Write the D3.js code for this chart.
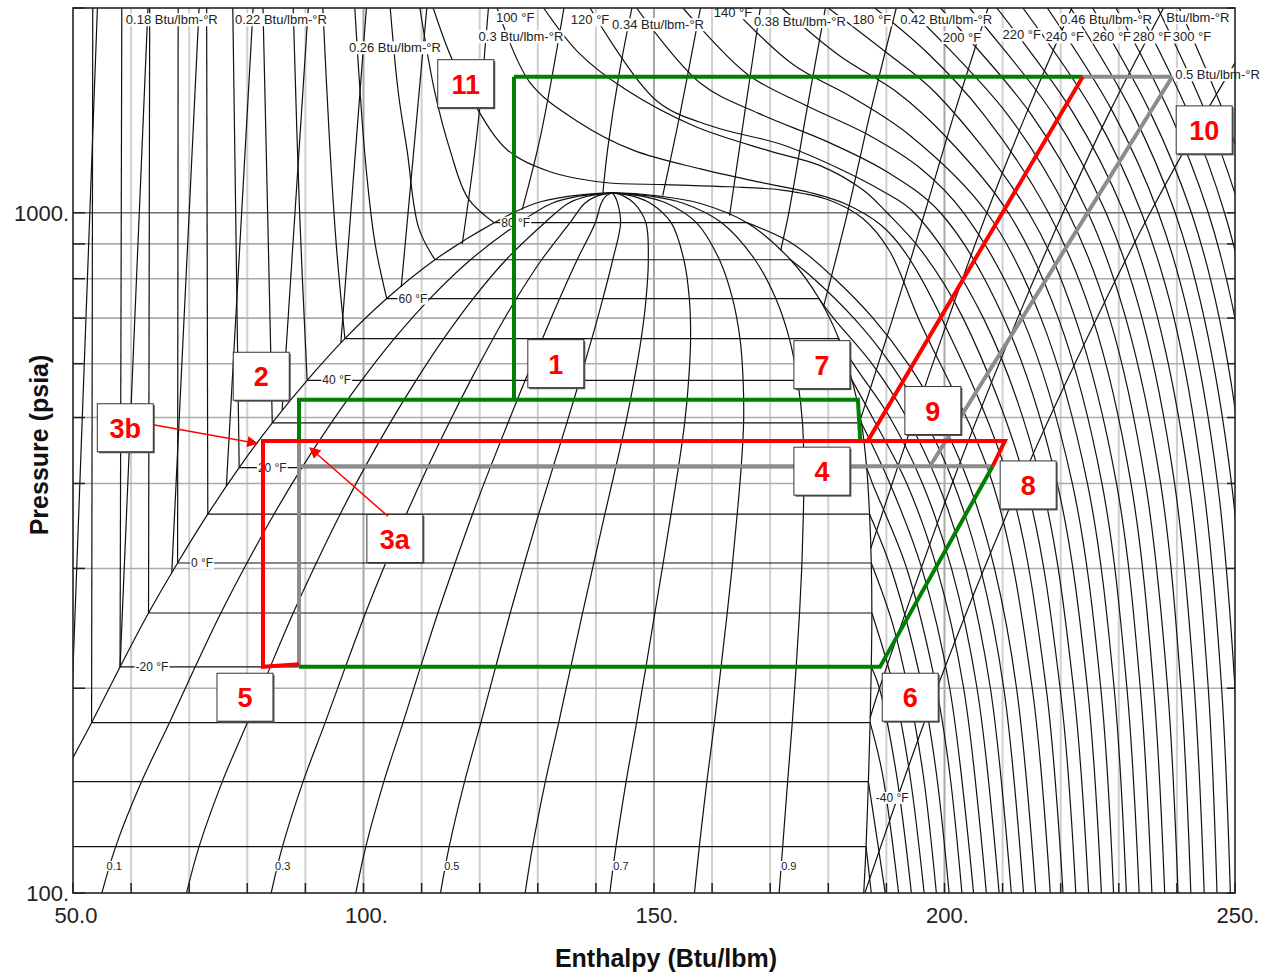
<!DOCTYPE html>
<html>
<head>
<meta charset="utf-8">
<title>CO2 pressure-enthalpy chart</title>
<script src="https://cdn.jsdelivr.net/npm/d3@7"></script>
<style>
  body { margin: 0; background: #fff; }
  svg { font-family: "Liberation Sans", Arial, Helvetica, sans-serif; }
</style>
</head>
<body>
<svg width="1278" height="980"></svg>
<script>
// ---------- data (enthalpy Btu/lbm, pressure psia) ----------
const xTickValues = [50, 100, 150, 200, 250];
const xTickLabels = ["50.0", "100.", "150.", "200.", "250."];
const yTickValues = [100, 1000];
const yTickLabels = ["100.", "1000."];

// saturation dome
const satT  = [-56.3, -50, -40, -30, -20, -10, 0, 10, 20, 30, 40, 50, 60, 70, 80, 85, 87, 87.8];
const satP  = [100, 117, 145.8, 178, 215, 258, 305.6, 360.5, 422, 491, 567, 653, 748, 853, 967, 1032, 1058, 1070];
const satHf = [40.4, 43.0, 47.9, 53.2, 58.1, 63.0, 68.0, 73.2, 78.6, 84.3, 90.3, 96.8, 104.0, 112.3, 122.5, 129.5, 135.5, 142.8];
const satHg = [186.1, 186.5, 186.9, 187.2, 187.4, 187.5, 187.4, 187.1, 186.6, 185.7, 184.1, 181.8, 178.4, 173.5, 166.0, 158.0, 151.0, 142.8];

const qualities = [0.1, 0.2, 0.3, 0.4, 0.5, 0.6, 0.7, 0.8, 0.9];
const qualityLabels = ["0.1", "0.3", "0.5", "0.7", "0.9"];
const qualityLabelH = [57.1, 86.1, 115.2, 144.3, 173.2];
const qualityLabelP = 109.6;

// compressed liquid isotherms, -30 .. 80 F
const liquidIsotherms = [
  [[53.2, 178], [53.4, 2000]],
  [[58.1, 215], [58.4, 2000]],
  [[63.0, 258], [63.2, 2000]],
  [[68.0, 305.6], [68.1, 2000]],
  [[73.2, 360.5], [73.0, 2000]],
  [[78.6, 422], [78.0, 1000], [77.5, 2000]],
  [[84.3, 491], [83.5, 1000], [82.7, 2000]],
  [[90.3, 567], [89.0, 1000], [87.9, 2000]],
  [[96.8, 653], [95.3, 900], [94.1, 1300], [93.0, 2000]],
  [[104.0, 748], [102.0, 900], [100.3, 1200], [98.5, 2000]],
  [[112.3, 853], [109.5, 950], [107.5, 1236], [106.0, 1500], [104.6, 2000]],
  [[122.5, 967], [118.0, 1050], [114.9, 1236], [112.3, 1500], [109.7, 2000]]
];

// superheated vapour isotherms, -50 .. 80 F
const vaporIsotherms = [
  [[186.5, 117], [187.4, 100]],
  [[186.9, 145.8], [188.4, 120], [189.8, 100]],
  [[187.2, 178], [189.3, 150], [192.1, 100]],
  [[187.4, 215], [188.8, 200], [191.7, 150], [194.3, 100]],
  [[187.5, 258], [191.3, 200], [194.0, 150], [196.5, 100]],
  [[187.4, 305.6], [191.0, 250], [193.7, 200], [196.3, 150], [198.6, 100]],
  [[187.1, 360.5], [190.8, 300], [196.2, 200], [198.6, 150], [200.8, 100]],
  [[186.6, 422], [187.6, 400], [193.5, 300], [198.6, 200], [200.9, 150], [203.0, 100]],
  [[185.7, 491], [190.6, 400], [196.1, 300], [200.9, 200], [205.0, 100]],
  [[184.1, 567], [187.6, 500], [193.5, 400], [198.7, 300], [203.3, 200], [207.2, 100]],
  [[181.8, 653], [184.3, 600], [190.6, 500], [196.2, 400], [201.2, 300], [205.6, 200], [209.4, 100]],
  [[178.4, 748], [180.9, 700], [187.5, 600], [193.5, 500], [198.9, 400], [203.7, 300], [207.9, 200], [211.5, 100]],
  [[173.5, 853], [177.5, 800], [184.4, 700], [190.7, 600], [196.4, 500], [201.6, 400], [206.2, 300], [210.2, 200], [213.6, 100]],
  [[166.0, 967], [173.9, 900], [181.1, 800], [187.7, 700], [193.7, 600], [199.2, 500], [204.2, 400], [208.6, 300], [212.4, 200], [215.7, 100]]
];

// supercritical isotherms, 90 .. 300 F
const superIsotherms = [
  [[112, 2000], [115, 1700], [119, 1450], [124.8, 1236], [132, 1150], [141.5, 1108], [152, 1100], [163, 1092], [172, 1080], [180, 1045], [186, 980], [190.5, 880], [195.5, 700], [208.3, 400], [215.1, 200], [218.2, 100]],
  [[123, 2000], [128.7, 1552], [137, 1360], [146.4, 1236], [158, 1160], [168, 1110], [177, 1070], [183, 1030], [189, 960], [193, 880], [199.5, 700], [211.2, 400], [217.5, 200], [220.4, 100]],
  [[131, 2000], [137, 1720], [145, 1520], [157, 1340], [169.4, 1236], [178.6, 1173], [186, 1080], [190.1, 1000], [196, 880], [203.2, 700], [214, 400], [219.9, 200], [222.6, 100]],
  [[139, 2000], [150.5, 1460], [160, 1340], [172, 1260], [182, 1160], [189, 1080], [194.8, 1000], [206.7, 700], [216.7, 400], [222.2, 200], [224.8, 100]],
  [[147, 2000], [158, 1550], [168, 1400], [180, 1270], [190, 1150], [199.3, 1000], [210.2, 700], [219.4, 400], [224.6, 200], [227, 100]],
  [[155, 2000], [166, 1600], [176, 1440], [187, 1300], [196, 1160], [203.3, 1000], [213.4, 700], [222, 400], [226.9, 200], [229.1, 100]],
  [[163.5, 2000], [174, 1650], [184, 1480], [194, 1300], [207.3, 1000], [216.6, 700], [224.6, 400], [229.2, 200], [231.3, 100]],
  [[172, 2000], [182, 1700], [192, 1500], [200, 1300], [211, 1000], [219.6, 700], [227.1, 400], [231.4, 200], [233.5, 100]],
  [[180, 2000], [190, 1720], [198.5, 1500], [214.5, 1000], [222.5, 700], [229.6, 400], [233.7, 200], [235.7, 100]],
  [[188, 2000], [197, 1720], [206.6, 1400], [217.9, 1000], [225.5, 700], [232.1, 400], [236, 200], [237.9, 100]],
  [[193.8, 2000], [210.7, 1400], [221.3, 1000], [228.4, 700], [234.6, 400], [238.4, 200], [240.2, 100]],
  [[199.3, 2000], [214.8, 1400], [224.7, 1000], [231.2, 700], [237.2, 400], [240.7, 200], [242.4, 100]],
  [[204.3, 2000], [218.6, 1400], [227.8, 1000], [234.0, 700], [239.6, 400], [243.0, 200], [244.7, 100]],
  [[209.0, 2000], [222.2, 1400], [230.9, 1000], [236.7, 700], [242.1, 400], [245.4, 200], [246.9, 100]],
  [[213.5, 2000], [225.8, 1400], [233.9, 1000], [239.5, 700], [244.5, 400], [247.7, 200], [249.2, 100]],
  [[217.7, 2000], [229.1, 1400], [236.8, 1000], [242.1, 700], [247.0, 400], [250.0, 200], [251.4, 100]],
  [[221.7, 2000], [232.4, 1400], [239.7, 1000], [244.7, 700], [249.4, 400], [252.3, 200], [253.7, 100]],
  [[225.5, 2000], [235.5, 1400], [242.5, 1000], [247.3, 700], [251.7, 400], [254.5, 200], [255.9, 100]],
  [[229.5, 2000], [238.8, 1400], [245.4, 1000], [250.0, 700], [254.2, 400], [256.9, 200], [258.2, 100]],
  [[233.2, 2000], [242.0, 1400], [248.2, 1000], [252.6, 700], [256.7, 400], [259.3, 200], [260.6, 100]],
  [[236.7, 2000], [245.0, 1400], [251.0, 1000], [255.2, 700], [259.2, 400], [261.7, 200], [262.9, 100]],
  [[240.4, 2000], [248.1, 1400], [253.8, 1000], [257.8, 700], [261.7, 400], [264.1, 200], [265.2, 100]]
];

// isentropes 0.16 .. 0.50 Btu/lbm-R
const isentropes = [
  [[49.4, 155], [54.2, 2000]],
  [[58.1, 215], [62.9, 2000]],
  [[67.0, 296], [71.7, 2000]],
  [[76.4, 397], [81.0, 2000]],
  [[86.0, 513], [90.5, 2000]],
  [[96.1, 644], [100.5, 2000]],
  [[106.5, 778], [110.9, 2000]],
  [[117.0, 900], [119.5, 1300], [121.5, 2000]],
  [[127.3, 1010], [130.5, 1300], [134.5, 2000]],
  [[141.2, 1069], [142.0, 1236], [144.0, 1600], [146.2, 2000]],
  [[151.5, 1060], [154.5, 1400], [158.0, 2000]],
  [[163.0, 990], [165.6, 1400], [168.3, 2000]],
  [[171.8, 880], [173.2, 1000], [176.2, 1400], [179.5, 2000]],
  [[179.2, 729], [183.3, 1000], [187.2, 1400], [191.7, 2000]],
  [[185.6, 499], [191.1, 700], [196.6, 1000], [201.7, 1400], [207.5, 2000]],
  [[187.3, 321], [191.0, 400], [200.7, 700], [207.3, 1000], [214.1, 1400], [221.9, 2000]],
  [[187.2, 181], [188.8, 200], [201.3, 400], [212.6, 700], [220.4, 1000], [228.3, 1400], [237.7, 2000]],
  [[186.3, 100], [198.7, 200], [213.0, 400], [226.2, 700], [235.4, 1000], [244.9, 1400], [255.7, 2000]]
];

// line labels
const domeLabelText = ["80 °F", "60 °F", "40 °F", "20 °F", "0 °F", "-20 °F", "-40 °F"];
const domeLabelH = [126.2, 108.5, 95.4, 84.3, 72.2, 63.6, 191.0];
const domeLabelP = [967, 748, 567, 422, 305.6, 215, 138];

const topTempText = ["100 °F", "120 °F", "140 °F", "180 °F", "200 °F", "220 °F", "240 °F", "260 °F", "280 °F", "300 °F"];
const topTempH = [126.1, 139.0, 163.6, 187.5, 203.0, 213.3, 220.7, 228.8, 235.7, 242.6];
const topTempP = [1936, 1922, 1968, 1922, 1809, 1827, 1813, 1813, 1813, 1813];

const entropyText = ["0.18 Btu/lbm-°R", "0.22 Btu/lbm-°R", "0.26 Btu/lbm-°R", "0.3 Btu/lbm-°R", "0.34 Btu/lbm-°R",
                     "0.38 Btu/lbm-°R", "0.42 Btu/lbm-°R", "0.46 Btu/lbm-°R", "Btu/lbm-°R"];
const entropyH = [67.0, 85.8, 105.4, 127.1, 150.7, 175.1, 200.3, 227.8, 243.6];
const entropyP = [1922, 1922, 1748, 1815, 1890, 1910, 1922, 1922, 1936];
const edgeEntropyText = "0.5 Btu/lbm-°R";
const edgeEntropyPoint = [239.7, 1596];

// refrigeration cycle paths
const grayPaths = [
  [[88.9, 462], [88.9, 215]],
  [[88.9, 424], [208.3, 424]],
  [[197.5, 424], [239.2, 1585]],
  [[223.8, 1585], [239.2, 1585]]
];
const greenPaths = [
  [[125.9, 1585], [125.9, 531]],
  [[88.9, 462], [88.9, 531], [185.1, 531], [185.5, 462]],
  [[88.9, 215], [188.9, 215], [208.3, 424]],
  [[125.9, 1585], [223.8, 1585]]
];
const redPaths = [
  [[88.9, 217], [82.7, 215], [82.7, 462], [210.4, 462], [208.3, 424]],
  [[186.8, 462], [223.8, 1585]]
];

// state point boxes
const boxText = ["11", "10", "1", "7", "2", "3b", "9", "4", "8", "3a", "5", "6"];
const boxH = [117.6, 244.7, 133.1, 178.9, 82.4, 59.0, 198.0, 178.9, 214.4, 105.4, 79.6, 194.1];
const boxP = [1548, 1324, 600, 598, 575, 483, 512, 417, 398, 332, 194, 194];
const arrowFrom = [[63.8, 488], [104.2, 358]];
const arrowTo = [[81.7, 458], [90.8, 451]];

// ---------- drawing ----------
let svg = d3.select("svg");

let x = d3.scaleLinear().domain([50, 250]).range([73, 1235]);
let y = d3.scaleLog().domain([100, 2000]).range([893, 8]);

let smooth = d3.line().x(d => x(d[0])).y(d => y(d[1])).curve(d3.curveCatmullRom.alpha(0.5));
let straight = d3.line().x(d => x(d[0])).y(d => y(d[1]));

let defs = svg.append("defs");
defs.append("clipPath").attr("id", "plotclip")
  .append("rect").attr("x", x(50)).attr("y", y(2000)).attr("width", x(250) - x(50)).attr("height", y(100) - y(2000));
defs.append("marker")
  .attr("id", "redhead").attr("viewBox", "0 0 10 10").attr("refX", 9).attr("refY", 5)
  .attr("markerWidth", 13).attr("markerHeight", 11).attr("markerUnits", "userSpaceOnUse").attr("orient", "auto")
  .append("path").attr("d", "M0,0 L10,5 L0,10 z").attr("fill", "#ff0000");

// grid
let grid = svg.append("g");
grid.selectAll("line.v")
  .data(x.ticks(20).filter(v => v > 50 && v < 250))
  .enter().append("line")
  .attr("x1", d => x(d)).attr("x2", d => x(d))
  .attr("y1", y(2000)).attr("y2", y(100))
  .attr("stroke", d => d % 50 === 0 ? "#a8a8a8" : "#cfcfcf")
  .attr("stroke-width", 2);
grid.selectAll("line.h")
  .data(y.ticks().filter(v => v > 100 && v < 2000))
  .enter().append("line")
  .attr("x1", x(50)).attr("x2", x(250))
  .attr("y1", d => y(d)).attr("y2", d => y(d))
  .attr("stroke", d => d === 1000 ? "#6e6e6e" : "#ababab")
  .attr("stroke-width", 1.6);

// property lines
let props = svg.append("g").attr("clip-path", "url(#plotclip)")
  .attr("fill", "none").attr("stroke", "#111").attr("stroke-width", 1.2);

let dome = satHf.map((h, i) => [h, satP[i]])
  .concat(satHg.slice(0, -1).map((h, i) => [h, satP[i]]).reverse());
props.append("path").attr("d", smooth(dome));

qualities.forEach(q => {
  let pts = satHf.map((hf, i) => [hf + q * (satHg[i] - hf), satP[i]]);
  props.append("path").attr("d", smooth(pts));
});

satT.forEach((t, i) => {
  if (t % 10 === 0) props.append("path").attr("d", straight([[satHf[i], satP[i]], [satHg[i], satP[i]]]));
});

[liquidIsotherms, vaporIsotherms, superIsotherms, isentropes].forEach(set => {
  props.selectAll(null).data(set).enter().append("path").attr("d", d => smooth(d));
});

// text labels with white backing
function tag(g, str, px, py, size, anchor) {
  let t = g.append("text")
    .attr("x", px).attr("y", py)
    .attr("font-size", size)
    .attr("text-anchor", anchor || "middle")
    .attr("dominant-baseline", "central")
    .attr("fill", "#222")
    .text(str);
  let b = t.node().getBBox();
  g.insert("rect", () => t.node())
    .attr("x", b.x - 1).attr("y", b.y + 1).attr("width", b.width + 2).attr("height", b.height - 2)
    .attr("fill", "#fff");
}

let labels = svg.append("g");
qualityLabels.forEach((s, i) => tag(labels, s, x(qualityLabelH[i]), y(qualityLabelP), 11));
domeLabelText.forEach((s, i) => tag(labels, s, x(domeLabelH[i]), y(domeLabelP[i]), 12));
topTempText.forEach((s, i) => tag(labels, s, x(topTempH[i]), y(topTempP[i]), 13));
entropyText.forEach((s, i) => tag(labels, s, x(entropyH[i]), y(entropyP[i]), 13));
tag(labels, edgeEntropyText, x(edgeEntropyPoint[0]), y(edgeEntropyPoint[1]), 13, "start");

// cycle
let cycle = svg.append("g").attr("fill", "none").attr("stroke-width", 4).attr("stroke-linejoin", "miter");
cycle.selectAll("path.g").data(grayPaths).enter().append("path")
  .attr("d", d => straight(d)).attr("stroke", "#8c8c8c");
cycle.selectAll("path.gr").data(greenPaths).enter().append("path")
  .attr("d", d => straight(d)).attr("stroke", "#008000");
cycle.selectAll("path.r").data(redPaths).enter().append("path")
  .attr("d", d => straight(d)).attr("stroke", "#ff0000");

// state boxes
let boxes = svg.append("g");
boxText.forEach((s, i) => {
  let cx = x(boxH[i]), cy = y(boxP[i]);
  let w = 56, h = 48;
  boxes.append("rect").attr("x", cx - w / 2 + 1.5).attr("y", cy - h / 2 + 1.5)
    .attr("width", w).attr("height", h).attr("fill", "#555");
  boxes.append("rect").attr("x", cx - w / 2).attr("y", cy - h / 2)
    .attr("width", w).attr("height", h).attr("fill", "#fff").attr("stroke", "#333").attr("stroke-width", 1);
  boxes.append("text").attr("x", cx).attr("y", cy + 1)
    .attr("text-anchor", "middle").attr("dominant-baseline", "central")
    .attr("font-size", 27).attr("font-weight", "bold").attr("fill", "#ff0000")
    .text(s);
});
arrowFrom.forEach((a, i) => {
  boxes.append("line")
    .attr("x1", x(a[0])).attr("y1", y(a[1]))
    .attr("x2", x(arrowTo[i][0])).attr("y2", y(arrowTo[i][1]))
    .attr("stroke", "#ff0000").attr("stroke-width", 1.5)
    .attr("marker-end", "url(#redhead)");
});

// frame and ticks
let frame = svg.append("g");
frame.append("rect")
  .attr("x", x(50)).attr("y", y(2000)).attr("width", x(250) - x(50)).attr("height", y(100) - y(2000))
  .attr("fill", "none").attr("stroke", "#222").attr("stroke-width", 1.6);
frame.selectAll("line.bt").data(x.ticks(20)).enter().append("line")
  .attr("x1", d => x(d)).attr("x2", d => x(d)).attr("y1", y(100)).attr("y2", y(100) - 10)
  .attr("stroke", "#222").attr("stroke-width", 1.5);
frame.selectAll("line.lt").data(y.ticks()).enter().append("line")
  .attr("x1", x(50)).attr("x2", x(50) + 12).attr("y1", d => y(d)).attr("y2", d => y(d))
  .attr("stroke", "#222").attr("stroke-width", 1.5);
frame.selectAll("line.rt").data(y.ticks()).enter().append("line")
  .attr("x1", x(250)).attr("x2", x(250) - 8).attr("y1", d => y(d)).attr("y2", d => y(d))
  .attr("stroke", "#222").attr("stroke-width", 1.5);

frame.selectAll("text.xt").data(xTickValues).enter().append("text")
  .attr("x", d => x(d) + 3).attr("y", 923)
  .attr("text-anchor", "middle").attr("font-size", 22).attr("fill", "#222")
  .text((d, i) => xTickLabels[i]);
frame.selectAll("text.yt").data(yTickValues).enter().append("text")
  .attr("x", 69).attr("y", d => y(d) + 8)
  .attr("text-anchor", "end").attr("font-size", 22).attr("fill", "#222")
  .text((d, i) => yTickLabels[i]);

frame.append("text")
  .attr("x", 666).attr("y", 967)
  .attr("text-anchor", "middle").attr("font-size", 25).attr("font-weight", "bold").attr("fill", "#111")
  .text("Enthalpy (Btu/lbm)");
frame.append("text")
  .attr("transform", "translate(48,445) rotate(-90)")
  .attr("text-anchor", "middle").attr("font-size", 25).attr("font-weight", "bold").attr("fill", "#111")
  .text("Pressure (psia)");
</script>
</body>
</html>
